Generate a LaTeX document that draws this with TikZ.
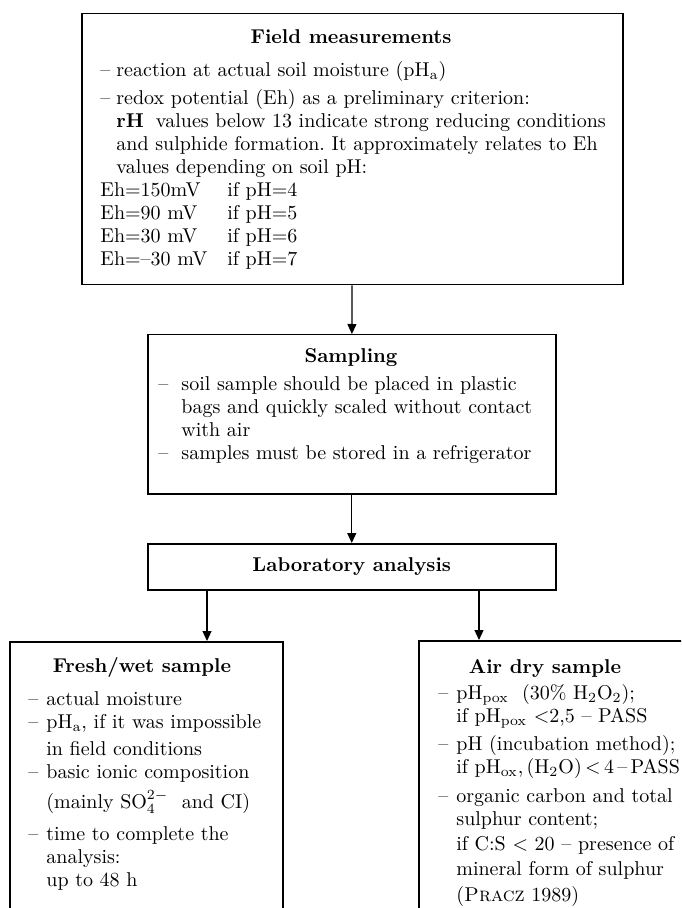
\documentclass[tikz,border=0pt]{standalone}
\usepackage{amsmath}
\usepackage{tikz}
\usetikzlibrary{arrows.meta,positioning}
\tikzset{
	box/.style={draw,rectangle,line width=0.75pt,anchor=north west,inner sep=0pt},
	head/.style={font=\bfseries,anchor=base,inner sep=0pt},
	items/.style={align=left,anchor=base west,inner sep=0pt,text width=#1,font=\fontsize{10}{11.5}\selectfont\frenchspacing},
	link/.style={->,line width=0.6pt},
	>={Triangle[length=5pt,width=4.5pt]}
}
\newcommand{\itm}[1][9pt]{\makebox[#1][l]{--}}
\newcommand{\cnt}[1][9pt]{\hspace*{#1}}
\newcommand{\ehrow}[2]{\makebox[63.5pt][l]{#1}#2}

\begin{document}
\begin{tikzpicture}[x=0.5pt,y=-0.5pt]
	\useasboundingbox (0,0) rectangle (681,908);
	\clip (0,0) rectangle (681,908);
	% frames
	\node[box,minimum width=270.5pt,minimum height=135.5pt] (field) at (81,13) {};
	\node[box,minimum width=204pt,minimum height=79.5pt] (samp) at (147,334) {};
	\node[box,minimum width=204pt,minimum height=23pt,font=\bfseries] (lab) at (147,543) {Laboratory analysis};
	\node[box,minimum width=136.5pt,minimum height=160pt] (fresh) at (9,641) {};
	\node[box,minimum width=160pt,minimum height=160pt] (air) at (418,640) {};
	% field measurements
	\node[head] (fieldhd) at (351,44) {Field measurements};
	\node[items=265pt] (fieldtxt) at (100,77) {\itm[8pt]reaction at actual soil moisture (pH$_{\mathrm{a}}$)\\[2.5pt]
		\itm[8pt]redox potential (Eh) as a preliminary criterion:\\
		\cnt[8pt]\textbf{rH}\hspace{6pt}values below 13 indicate strong reducing conditions\\
		\cnt[8pt]and sulphide formation. It approximately relates to Eh\\
		\cnt[8pt]values depending on soil pH:\\
		\ehrow{Eh=150mV}{if pH=4}\\
		\ehrow{Eh=90 mV}{if pH=5}\\
		\ehrow{Eh=30 mV}{if pH=6}\\
		\ehrow{Eh=--30 mV}{if pH=7}};
	% sampling
	\node[head] (samphd) at (351,363) {Sampling};
	\node[items=200pt] (samptxt) at (158,390) {\itm[11.5pt]soil sample should be placed in plastic\\
		\cnt[11.5pt]bags and quickly scaled without contact\\
		\cnt[11.5pt]with air\\
		\itm[11.5pt]samples must be stored in a refrigerator};
	% laboratory
	\node[head] (freshhd) at (142,672) {Fresh/wet sample};
	\node[items=130pt] (freshtxt) at (28,705) {\itm actual moisture\\
		\itm pH$_{\mathrm{a}}$, if it was impossible\\[2pt]
		\cnt in field conditions\\
		\itm basic ionic composition\\[3.5pt]
		\cnt (mainly SO$_4^{2-}$\ \ and CI)\\[4.5pt]
		\itm time to complete the\\
		\cnt analysis:\\
		\cnt up to 48 h};
	\node[head] (airhd) at (545,673) {Air dry sample};
	\node[items=140pt] (airtxt) at (438,699) {\itm pH$_{\mathrm{pox}}$\ \ (30\% H$_2$O$_2$);\\
		\cnt if pH$_{\mathrm{pox}}$ \textless2,5 -- PASS\\[2.5pt]
		\itm pH (incubation method);\\
		\cnt if pH$_{\mathrm{ox}}$,\,(H$_2$O)\,\textless\,4\,--\,PASS\\[3pt]
		\itm organic carbon and total\\
		\cnt sulphur content;\\[1pt]
		\cnt if C:S \textless\ 20 -- presence of\\[1pt]
		\cnt mineral form of sulphur\\[1.5pt]
		\cnt (\textsc{Pracz} 1989)};
	% arrows
	\draw[link] (field) -- (samp);
	\draw[link] (samp) -- (lab);
	\draw[link] ([xshift=30pt]lab.south west) -- ([xshift=30pt]lab.south west |- fresh.north);
	\draw[link] ([xshift=30.5pt]air.north west |- lab.south) -- ([xshift=30.5pt]air.north west);
\end{tikzpicture}
\end{document}
